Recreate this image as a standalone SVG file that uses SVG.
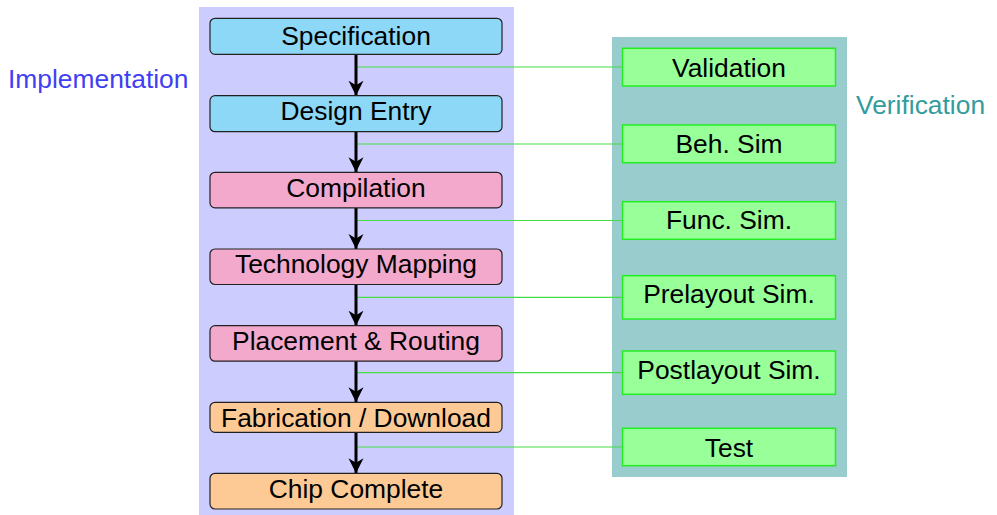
<svg xmlns="http://www.w3.org/2000/svg" width="997" height="515" viewBox="0 0 997 515">
<defs>
<style>
text{font-family:"Liberation Sans",Arial,Helvetica,sans-serif;font-size:26.4px;text-anchor:middle;fill:#000}
.step{stroke:#222;stroke-width:1.2}
.blue{fill:#8dd8f6}
.pink{fill:#f3a9cc}
.orange{fill:#fdca96}
.ver rect{fill:#99ff99;stroke:#22ee22;stroke-width:1.5}
.link{stroke:#44dd44;stroke-width:1.2;fill:none}
.flow{stroke:#000;stroke-width:3;fill:none;marker-end:url(#ah)}
.lbl{text-anchor:start}
</style>
<marker id="ah" markerUnits="userSpaceOnUse" markerWidth="16" markerHeight="16" refX="15" refY="8" orient="auto">
<path d="M0,0.5 L15,8 L0,15.5 L4.5,8 Z" fill="#000"/>
</marker>
</defs>
<rect id="implementation-panel" x="199" y="7" width="315" height="508" fill="#ccccff"/>
<rect id="verification-panel" x="612" y="37" width="235" height="440" fill="#99cccc"/>
<text id="implementation-label" x="8" y="87.5" class="lbl" style="fill:#4040f2">Implementation</text>
<text id="verification-label" x="856" y="114" class="lbl" style="fill:#339c9c">Verification</text>
<g id="connectors">
<line class="link" x1="356" y1="67" x2="622" y2="67"/>
<line class="link" x1="356" y1="144" x2="622" y2="144"/>
<line class="link" x1="356" y1="220.5" x2="622" y2="220.5"/>
<line class="link" x1="356" y1="297.3" x2="622" y2="297.3"/>
<line class="link" x1="356" y1="372.7" x2="622" y2="372.7"/>
<line class="link" x1="356" y1="447" x2="622" y2="447"/>
<line class="flow" x1="356" y1="54" x2="356" y2="95.7"/>
<line class="flow" x1="356" y1="132" x2="356" y2="172.3"/>
<line class="flow" x1="356" y1="208" x2="356" y2="249"/>
<line class="flow" x1="356" y1="285" x2="356" y2="325.7"/>
<line class="flow" x1="356" y1="361" x2="356" y2="402.3"/>
<line class="flow" x1="356" y1="432.3" x2="356" y2="473.3"/>
</g>
<g id="specification"><rect class="step blue" x="210" y="18.3" width="292" height="36" rx="5"/><text x="356" y="44.5">Specification</text></g>
<g id="design-entry"><rect class="step blue" x="210" y="95.7" width="292" height="36" rx="5"/><text x="356" y="119.5">Design Entry</text></g>
<g id="compilation"><rect class="step pink" x="210" y="172.3" width="292" height="35.5" rx="5"/><text x="356" y="196.7">Compilation</text></g>
<g id="technology-mapping"><rect class="step pink" x="210" y="249" width="292" height="35.5" rx="5"/><text x="356" y="273.3">Technology Mapping</text></g>
<g id="placement-routing"><rect class="step pink" x="210" y="325.7" width="292" height="35.5" rx="5"/><text x="356" y="349.5">Placement &amp; Routing</text></g>
<g id="fabrication-download"><rect class="step orange" x="210" y="402.3" width="292" height="30" rx="5"/><text x="356" y="426.7">Fabrication / Download</text></g>
<g id="chip-complete"><rect class="step orange" x="210" y="473.3" width="292" height="35.7" rx="5"/><text x="356" y="498.3">Chip Complete</text></g>
<g id="validation" class="ver"><rect x="622.5" y="48.3" width="213" height="37.7"/><text x="729" y="76.7">Validation</text></g>
<g id="beh-sim" class="ver"><rect x="622.5" y="125" width="213" height="37.7"/><text x="729" y="153.3">Beh. Sim</text></g>
<g id="func-sim" class="ver"><rect x="622.5" y="201.7" width="213" height="37.6"/><text x="729" y="229.3">Func. Sim.</text></g>
<g id="prelayout-sim" class="ver"><rect x="622.5" y="275.7" width="213" height="43.3"/><text x="729" y="303.3">Prelayout Sim.</text></g>
<g id="postlayout-sim" class="ver"><rect x="622.5" y="351" width="213" height="43.3"/><text x="729" y="379">Postlayout Sim.</text></g>
<g id="test" class="ver"><rect x="622.5" y="428.3" width="213" height="37.4"/><text x="729" y="456.7">Test</text></g>
</svg>
